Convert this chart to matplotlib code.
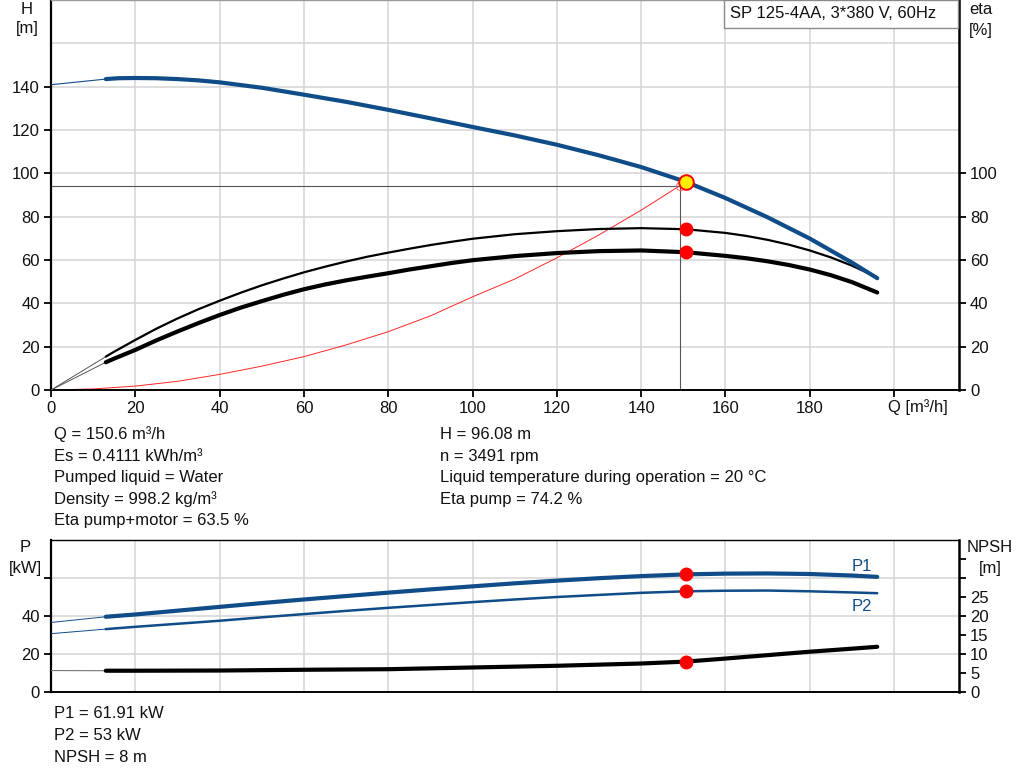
import matplotlib
matplotlib.use("Agg")
import matplotlib.pyplot as plt
from matplotlib.patches import Rectangle

plt.rcParams['font.family'] = ['Liberation Sans', 'DejaVu Sans']
plt.rcParams['font.size'] = 12
plt.rcParams['lines.solid_joinstyle'] = 'round'

# ---------------- data ----------------
title_text = "SP 125-4AA, 3*380 V, 60Hz"

# head curve (thin extension then main curve)
q_head_ext = [0, 13]
h_head_ext = [140.9, 143.5]
q_head = [13, 16, 20, 25, 30, 35, 40, 50, 60, 70, 80, 90, 100, 110, 120, 130, 140, 150.6, 160, 170,
          180, 190, 196]
h_head = [143.5, 143.9, 144.0, 143.9, 143.5, 142.9, 142.0, 139.5, 136.3, 133.0, 129.3, 125.4, 121.4,
          117.5, 113.2, 108.3, 102.9, 96.08, 88.6, 79.7, 69.9, 58.8, 51.6]

# efficiencies
q_eta = [13, 15, 20, 25, 30, 35, 40, 45, 50, 55, 60, 65, 70, 75, 80, 85, 90, 95, 100, 110, 120, 130,
         140, 150.6, 160, 165, 170, 175, 180, 185, 190, 196]
eta_pump = [15.4, 17.7, 23.1, 28.3, 33.0, 37.3, 41.2, 44.9, 48.3, 51.4, 54.3, 56.9, 59.3, 61.5, 63.4,
            65.2, 66.9, 68.4, 69.8, 71.9, 73.3, 74.3, 74.7, 74.2, 72.5, 71.1, 69.3, 67.1, 64.4, 61.2,
            57.4, 52.0]
eta_total = [12.8, 14.5, 18.5, 22.9, 27.0, 30.9, 34.6, 38.0, 41.0, 43.9, 46.5, 48.7, 50.6, 52.3, 53.9,
             55.6, 57.1, 58.6, 59.9, 61.8, 63.2, 64.1, 64.4, 63.6, 61.9, 60.8, 59.4, 57.7, 55.6, 53.0,
             49.8, 45.0]
q_eta_ext = [0, 13]
eta_pump_ext = [0, 15.4]
eta_total_ext = [0, 12.8]

# system curve
q_sys = [0, 10, 20, 30, 40, 50, 60, 70, 80, 90, 100, 110, 120, 130, 140, 149.1]
h_sys = [0, 0.5, 1.8, 4.0, 7.2, 11.0, 15.4, 20.8, 26.9, 34.2, 43.0, 51.2, 61.0, 71.6, 83.0, 94.2]

# duty point
q_duty = 150.6
h_duty = 96.08
eta_pump_duty = 74.2
eta_total_duty = 63.5
q_cross = 149.1
h_cross = 94.2

# power curves
q_pow = [13, 20, 30, 40, 50, 60, 70, 80, 90, 100, 110, 120, 130, 140, 150.6, 160, 170, 180, 190, 196]
p1 = [39.6, 40.8, 42.8, 44.8, 46.8, 48.7, 50.5, 52.3, 54.0, 55.6, 57.2, 58.6, 59.9, 61.0, 61.91,
      62.3, 62.4, 62.1, 61.3, 60.6]
p2 = [33.1, 34.3, 35.9, 37.5, 39.3, 41.0, 42.7, 44.3, 45.8, 47.3, 48.7, 50.0, 51.1, 52.2, 53.0,
      53.3, 53.4, 53.0, 52.4, 52.0]
q_pow_ext = [0, 13]
p1_ext = [36.6, 39.6]
p2_ext = [30.7, 33.1]
p1_duty = 61.91
p2_duty = 53

# NPSH
q_npsh = [13, 20, 40, 60, 80, 100, 120, 140, 150.6, 160, 170, 180, 190, 196]
npsh = [5.6, 5.6, 5.65, 5.85, 6.0, 6.45, 6.9, 7.5, 8.0, 8.8, 9.7, 10.6, 11.4, 11.9]
q_npsh_ext = [0, 13]
npsh_ext = [5.65, 5.6]
npsh_duty = 8

q_ticks = [0, 20, 40, 60, 80, 100, 120, 140, 160, 180]
h_ticks = [0, 20, 40, 60, 80, 100, 120, 140]
eta_ticks = [0, 20, 40, 60, 80, 100]
p_ticks = [0, 20, 40]
npsh_ticks = [0, 5, 10, 15, 20, 25]

info_left = ["Q = 150.6 m³/h", "Es = 0.4111 kWh/m³", "Pumped liquid = Water",
             "Density = 998.2 kg/m³", "Eta pump+motor = 63.5 %"]
info_right = ["H = 96.08 m", "n = 3491 rpm", "Liquid temperature during operation = 20 °C",
              "Eta pump = 74.2 %"]
info_bottom = ["P1 = 61.91 kW", "P2 = 53 kW", "NPSH = 8 m"]

# ---------------- styling ----------------
BLUE = "#0f4c88"
RED = "#ff0000"
GRID = "#d4d4d4"
TXT = "#111111"
FS = 12

W, H = 1024, 781
fig = plt.figure(figsize=(W / 100, H / 100), dpi=100)


def fx(px):
    return px / W


def fy(py):
    return 1 - py / H


X0, X1 = 51, 959

# ---------- top axes ----------
ax1 = fig.add_axes([fx(X0), fy(390), fx(X1 - X0), 390 / H])
ax1.set_xlim(0, 215.4)
ax1.set_ylim(0, 180)
for g in [20, 40, 60, 80, 100, 120, 140, 160, 180, 200]:
    ax1.axvline(g, color=GRID, lw=1.1, zorder=0)
for g in [20, 40, 60, 80, 100, 120, 140, 160]:
    ax1.axhline(g, color=GRID, lw=1.1, zorder=0)

ax1.set_xticks(q_ticks + [200])
ax1.set_xticklabels([str(t) for t in q_ticks] + [""])
ax1.set_yticks(h_ticks)
ax1.tick_params(axis='both', direction='out', length=5, width=1.3, colors='black',
                labelcolor=TXT, labelsize=FS, pad=3)
ax1.text(198.6, -4.0, "Q [m³/h]", ha='left', va='top', fontsize=FS, color=TXT)

ax1.spines['left'].set_linewidth(1.6)
ax1.spines['bottom'].set_linewidth(1.4)
ax1.spines['top'].set_color('#9a9a9a')
ax1.spines['top'].set_linewidth(1.0)
ax1.spines['right'].set_visible(False)

ax1r = ax1.twinx()
ax1r.set_ylim(0, 180)
ax1r.set_yticks(eta_ticks)
ax1r.tick_params(axis='y', direction='out', length=5, width=1.3, labelsize=FS, labelcolor=TXT, pad=3)
ax1r.spines['right'].set_linewidth(1.8)
for s in ['left', 'top', 'bottom']:
    ax1r.spines[s].set_visible(False)

# system curve and reading lines
ax1.plot(q_sys, h_sys, color=RED, lw=0.7, alpha=0.85, zorder=2)
ax1.plot([0, q_cross], [h_cross, h_cross], color='#555555', lw=0.8, zorder=2)
ax1.plot([q_cross, q_cross], [h_cross, 0], color='#555555', lw=0.8, zorder=2)
ax1.plot([q_cross], [h_cross], marker='o', ms=6, mfc='none', mec='#ff6060', mew=0.7, zorder=3)

# eta curves
ax1.plot(q_eta_ext, eta_pump_ext, color='#555555', lw=0.7, zorder=3)
ax1.plot(q_eta_ext, eta_total_ext, color='#555555', lw=0.7, zorder=3)
ax1.plot(q_eta, eta_pump, color='black', lw=1.6, zorder=3, solid_capstyle='round')
ax1.plot(q_eta, eta_total, color='black', lw=3.0, zorder=3, solid_capstyle='round')

# head curve
ax1.plot(q_head_ext, h_head_ext, color=BLUE, lw=0.8, zorder=4)
ax1.plot(q_head, h_head, color=BLUE, lw=3.0, zorder=4, solid_capstyle='round')

# duty markers
ax1.plot([q_duty], [eta_pump_duty], marker='o', ms=9, color=RED, mec=RED, zorder=6)
ax1.plot([q_duty], [eta_total_duty], marker='o', ms=9, color=RED, mec=RED, zorder=6)
ax1.plot([q_duty], [h_duty], marker='o', ms=10.5, mfc='#ffee00', mec=RED, mew=1.4, zorder=7)

# axis labels
fig.text(fx(27), fy(10), "H", ha='center', va='center', fontsize=FS, color=TXT)
fig.text(fx(27), fy(29), "[m]", ha='center', va='center', fontsize=FS, color=TXT)
fig.text(fx(981), fy(10), "eta", ha='center', va='center', fontsize=FS, color=TXT)
fig.text(fx(981), fy(30), "[%]", ha='center', va='center', fontsize=FS, color=TXT)

# title box
fig.patches.append(Rectangle((fx(724), fy(28)), fx(958 - 724), 28 / H, transform=fig.transFigure,
                             fc='white', ec='#8a8a8a', lw=1.0, zorder=10))
fig.text(fx(730), fy(14), title_text, ha='left', va='center', fontsize=FS, color=TXT, zorder=11)

# info text
baselines = [439, 461, 482, 504, 525]
for t, b in zip(info_left, baselines):
    fig.text(fx(54), fy(b), t, ha='left', va='baseline', fontsize=FS, color=TXT)
for t, b in zip(info_right, baselines):
    fig.text(fx(440), fy(b), t, ha='left', va='baseline', fontsize=FS, color=TXT)

# ---------- bottom axes ----------
ax2 = fig.add_axes([fx(X0), fy(692), fx(X1 - X0), 152 / H])
ax2.set_xlim(0, 215.4)
ax2.set_ylim(0, 80)
for g in [20, 40, 60, 80, 100, 120, 140, 160, 180, 200]:
    ax2.axvline(g, color=GRID, lw=1.1, zorder=0)
for g in [20, 40, 60]:
    ax2.axhline(g, color=GRID, lw=1.1, zorder=0)
ax2.set_xticks([])
ax2.set_yticks(p_ticks + [60])
ax2.set_yticklabels([str(t) for t in p_ticks] + [""])
ax2.tick_params(axis='y', direction='out', length=5, width=1.3, labelsize=FS, labelcolor=TXT, pad=3)
ax2.spines['left'].set_linewidth(1.6)
ax2.spines['bottom'].set_linewidth(1.4)
ax2.spines['top'].set_linewidth(1.0)
ax2.spines['right'].set_visible(False)

ax2r = ax2.twinx()
ax2r.set_ylim(0, 40)
ax2r.set_yticks(npsh_ticks + [30, 35])
ax2r.set_yticklabels([str(t) for t in npsh_ticks] + ["", ""])
ax2r.tick_params(axis='y', direction='out', length=5, width=1.3, labelsize=FS, labelcolor=TXT, pad=3)
ax2r.spines['right'].set_linewidth(1.8)
for s in ['left', 'top', 'bottom']:
    ax2r.spines[s].set_visible(False)

ax2.plot(q_pow_ext, p1_ext, color=BLUE, lw=0.7, zorder=3)
ax2.plot(q_pow_ext, p2_ext, color=BLUE, lw=0.7, zorder=3)
ax2.plot(q_pow, p1, color=BLUE, lw=3.0, zorder=3, solid_capstyle='round')
ax2.plot(q_pow, p2, color=BLUE, lw=1.8, zorder=3, solid_capstyle='round')
ax2.plot([q_duty], [p1_duty], marker='o', ms=9, color=RED, zorder=6)
ax2.plot([q_duty], [p2_duty], marker='o', ms=9, color=RED, zorder=6)

ax2r.plot(q_npsh_ext, npsh_ext, color='#777777', lw=0.8, zorder=3)
ax2r.plot(q_npsh, npsh, color='black', lw=3.0, zorder=3, solid_capstyle='round')
ax2r.plot([q_duty], [npsh_duty], marker='o', ms=9, color=RED, zorder=6)

ax2.text(190.0, 66.0, "P1", color=BLUE, fontsize=FS, ha='left', va='center')
ax2.text(190.0, 45.0, "P2", color=BLUE, fontsize=FS, ha='left', va='center')

fig.text(fx(25), fy(548), "P", ha='center', va='center', fontsize=FS, color=TXT)
fig.text(fx(25), fy(569), "[kW]", ha='center', va='center', fontsize=FS, color=TXT)
fig.text(fx(990), fy(548), "NPSH", ha='center', va='center', fontsize=FS, color=TXT)
fig.text(fx(990), fy(569), "[m]", ha='center', va='center', fontsize=FS, color=TXT)

for t, b in zip(info_bottom, [718, 739.5, 761.5]):
    fig.text(fx(54), fy(b), t, ha='left', va='baseline', fontsize=FS, color=TXT)

fig.savefig("out.png", dpi=100, facecolor='white')
